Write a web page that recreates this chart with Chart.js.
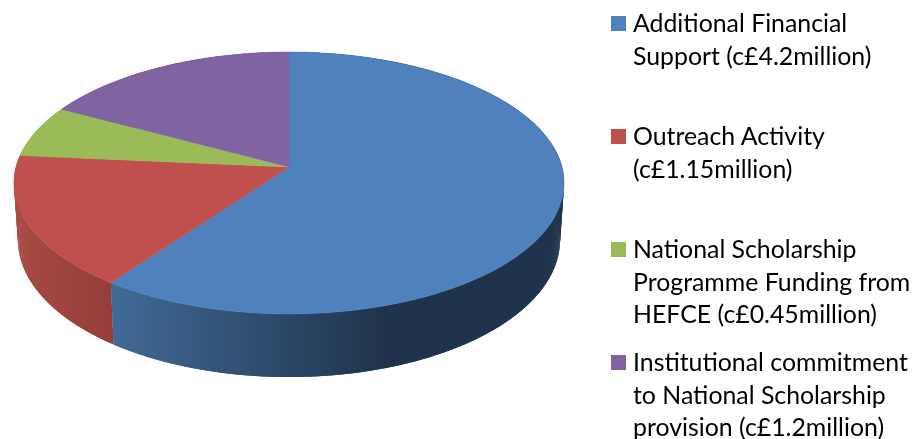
<!DOCTYPE html>
<html>
<head>
<meta charset="utf-8">
<title>Funding pie</title>
<script src="https://cdn.jsdelivr.net/npm/chart.js@4/dist/chart.umd.js"></script>
<style>
    html, body { margin: 0; padding: 0; background: #fff; }
    #wrap { position: relative; width: 912px; height: 439px; overflow: hidden; }
    #funding-chart { position: absolute; left: 0; top: 0; }
    .legend-item { position: absolute; left: 633px; font: 24.85px Lato, sans-serif; line-height: 32.6px; color: #000; white-space: nowrap; }
    .legend-box { position: absolute; left: -22px; top: 10px; width: 15px; height: 15px; }
</style>
</head>
<body>
<div id="wrap">
    <canvas id="funding-chart" width="912" height="439"></canvas>
</div>
<script>
const categories = [
    ['Additional Financial', 'Support (c£4.2million)'],
    ['Outreach Activity', '(c£1.15million)'],
    ['National Scholarship', 'Programme Funding from', 'HEFCE (c£0.45million)'],
    ['Institutional commitment', 'to National Scholarship', 'provision (c£1.2million)']
];
const funding = [4.2, 1.15, 0.45, 1.2];
const topColors = ['#4F81BD', '#C0504D', '#9BBB59', '#8064A2'];
// side wall shading per slice: x range, then colour stops along it
const wallRange = [[113, 564], [14, 113], [14, 113], [14, 289]];
const wallStops = [
    [[0, '#416A97'], [0.25, '#335378'], [0.41, '#2A4563'], [0.6, '#1F344C'], [1, '#1F344C']],
    [[0, '#A84A46'], [1, '#953D3A']],
    [[0, '#7F9A48'], [1, '#7F9A48']],
    [[0, '#684F86'], [1, '#684F86']]
];

// perspective of the disc, top face and bottom face
const skew = 0.122;
const topFace = { rx: 273, ry: 129, drop: 0 };
const bottomFace = { rx: 269, ry: 135, drop: 56.3 };

function project(arc, face, angle) {
    let u = Math.cos(angle), v = Math.sin(angle);
    let w = 1 - skew * v;
    return [arc.x + face.rx * u / w, arc.y + face.drop + face.ry * v / w];
}

function traceEdge(ctx, arc, face, from, to) {
    let steps = Math.max(2, Math.ceil(Math.abs(to - from) / 0.01));
    for (let i = 0; i <= steps; i++) {
        let p = project(arc, face, from + (to - from) * i / steps);
        ctx.lineTo(p[0], p[1]);
    }
}

const pie3d = {
    id: 'pie3d',
    beforeDatasetDraw(chart) {
        const ctx = chart.ctx;
        const arcs = chart.getDatasetMeta(0).data;
        const step = 0.01;
        ctx.save();
        // walls first, back slices before front ones
        for (let i = arcs.length - 1; i >= 0; i--) {
            let arc = arcs[i];
            let grad = ctx.createLinearGradient(wallRange[i][0], 0, wallRange[i][1], 0);
            wallStops[i].forEach(s => grad.addColorStop(s[0], s[1]));
            ctx.fillStyle = grad;
            // small overlapping strips so the fold at the sides gets filled
            for (let a = arc.startAngle; a < arc.endAngle; a += step) {
                let b = Math.min(a + 2 * step, arc.endAngle);
                ctx.beginPath();
                traceEdge(ctx, arc, topFace, a, b);
                traceEdge(ctx, arc, bottomFace, b, a);
                ctx.closePath();
                ctx.fill();
            }
        }
        // top face
        arcs.forEach((arc, i) => {
            ctx.beginPath();
            ctx.moveTo(arc.x, arc.y);
            traceEdge(ctx, arc, topFace, arc.startAngle, arc.endAngle);
            ctx.closePath();
            ctx.fillStyle = topColors[i];
            ctx.strokeStyle = topColors[i];
            ctx.lineWidth = 0.5;
            ctx.fill();
            ctx.stroke();
        });
        ctx.restore();
        return false;
    }
};

const fundingChart = new Chart(document.getElementById('funding-chart'), {
    type: 'pie',
    data: {
        labels: categories,
        datasets: [{ data: funding, backgroundColor: topColors, borderWidth: 0 }]
    },
    options: {
        responsive: false,
        animation: false,
        layout: { padding: { right: 334, bottom: 105 } },
        plugins: { legend: { display: false }, tooltip: { enabled: false } }
    },
    plugins: [pie3d]
});

// legend on the right
const wrap = document.getElementById('wrap');
categories.forEach((lines, i) => {
    let item = document.createElement('div');
    item.className = 'legend-item';
    item.style.top = (6 + i * 113) + 'px';
    let box = document.createElement('span');
    box.className = 'legend-box';
    box.style.background = topColors[i];
    item.appendChild(box);
    lines.forEach(line => {
        let row = document.createElement('div');
        row.textContent = line;
        item.appendChild(row);
    });
    wrap.appendChild(item);
});
</script>
</body>
</html>
